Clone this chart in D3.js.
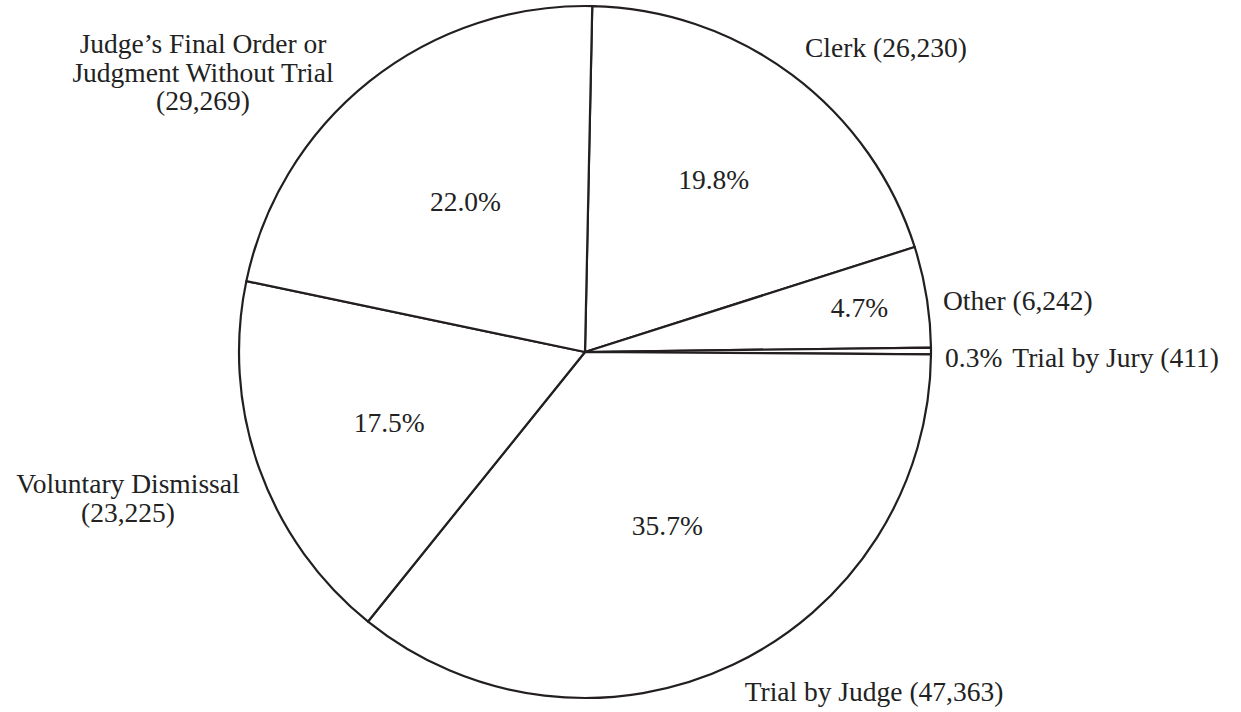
<!DOCTYPE html>
<html>
<head>
<meta charset="utf-8">
<script src="https://cdn.jsdelivr.net/npm/d3@7"></script>
<style>
  html, body { margin: 0; padding: 0; background: #fff; }
  svg { display: block; }
  text { font-family: "Liberation Serif", "Times New Roman", serif; fill: #222; }
</style>
</head>
<body>
<svg id="chart" width="1241" height="712"></svg>
<script>
// ---- data ----
const categories = ["Clerk", "Other", "Trial by Jury", "Trial by Judge", "Voluntary Dismissal", "Judge's Final Order or Judgment Without Trial"];
const counts = [26230, 6242, 411, 47363, 23225, 29269];
const percentLabels = ["19.8%", "4.7%", "0.3%", "35.7%", "17.5%", "22.0%"];
const countLabels = ["(26,230)", "(6,242)", "(411)", "(47,363)", "(23,225)", "(29,269)"];

// ---- layout ----
const W = 1241, H = 712;
const cx = 585, cy = 352, R = 346;
const startDeg = 1.2;
const fontSize = 27.5;

const svg = d3.select("#chart");
const g = svg.append("g").attr("transform", `translate(${cx},${cy})`);

const rows = categories.map((c, i) => ({ name: c, value: counts[i], pct: percentLabels[i], cnt: countLabels[i] }));
const a0 = startDeg * Math.PI / 180;
const pie = d3.pie().sort(null).value(d => d.value).startAngle(a0).endAngle(a0 + 2 * Math.PI);
const arcs = pie(rows);
const arc = d3.arc().innerRadius(0).outerRadius(R);

g.selectAll("path.slice").data(arcs).enter().append("path")
  .attr("class", "slice")
  .attr("d", arc)
  .attr("fill", "#fff")
  .attr("stroke", "#231f20")
  .attr("stroke-width", 2.2)
  .attr("stroke-linejoin", "round");

// inner percentage labels placed along each slice's mid-angle
const pctRadius = [215, 278, null, 192, 208, 192];
arcs.forEach((a, i) => {
  if (pctRadius[i] == null) return;
  const m = (a.startAngle + a.endAngle) / 2;
  const x = Math.sin(m) * pctRadius[i];
  const y = -Math.cos(m) * pctRadius[i];
  g.append("text")
    .attr("x", x).attr("y", y)
    .attr("text-anchor", "middle")
    .attr("dominant-baseline", "central")
    .attr("font-size", fontSize)
    .text(a.data.pct);
});

// outer category labels
function label(lines, x, y, anchor, lh) {
  const t = svg.append("text")
    .attr("font-size", fontSize)
    .attr("text-anchor", anchor);
  lines.forEach((s, k) => {
    t.append("tspan").attr("x", x).attr("y", y + k * lh).text(s);
  });
  return t;
}
label(["Judge\u2019s Final Order or", "Judgment Without Trial", rows[5].cnt], 203, 53, "middle", 28.5);
label([rows[0].name + " " + rows[0].cnt], 886, 57, "middle", 28);
label([rows[1].name + " " + rows[1].cnt], 943, 310, "start", 28);
label([rows[4].name, rows[4].cnt], 128, 493, "middle", 29);
label([rows[3].name + " " + rows[3].cnt], 874, 701, "middle", 28);
// jury: percent + name on one line
const jt = svg.append("text").attr("font-size", fontSize).attr("x", 945).attr("y", 367);
jt.append("tspan").text(rows[2].pct);
jt.append("tspan").attr("dx", 10).text(rows[2].name + " " + rows[2].cnt);
</script>
</body>
</html>
